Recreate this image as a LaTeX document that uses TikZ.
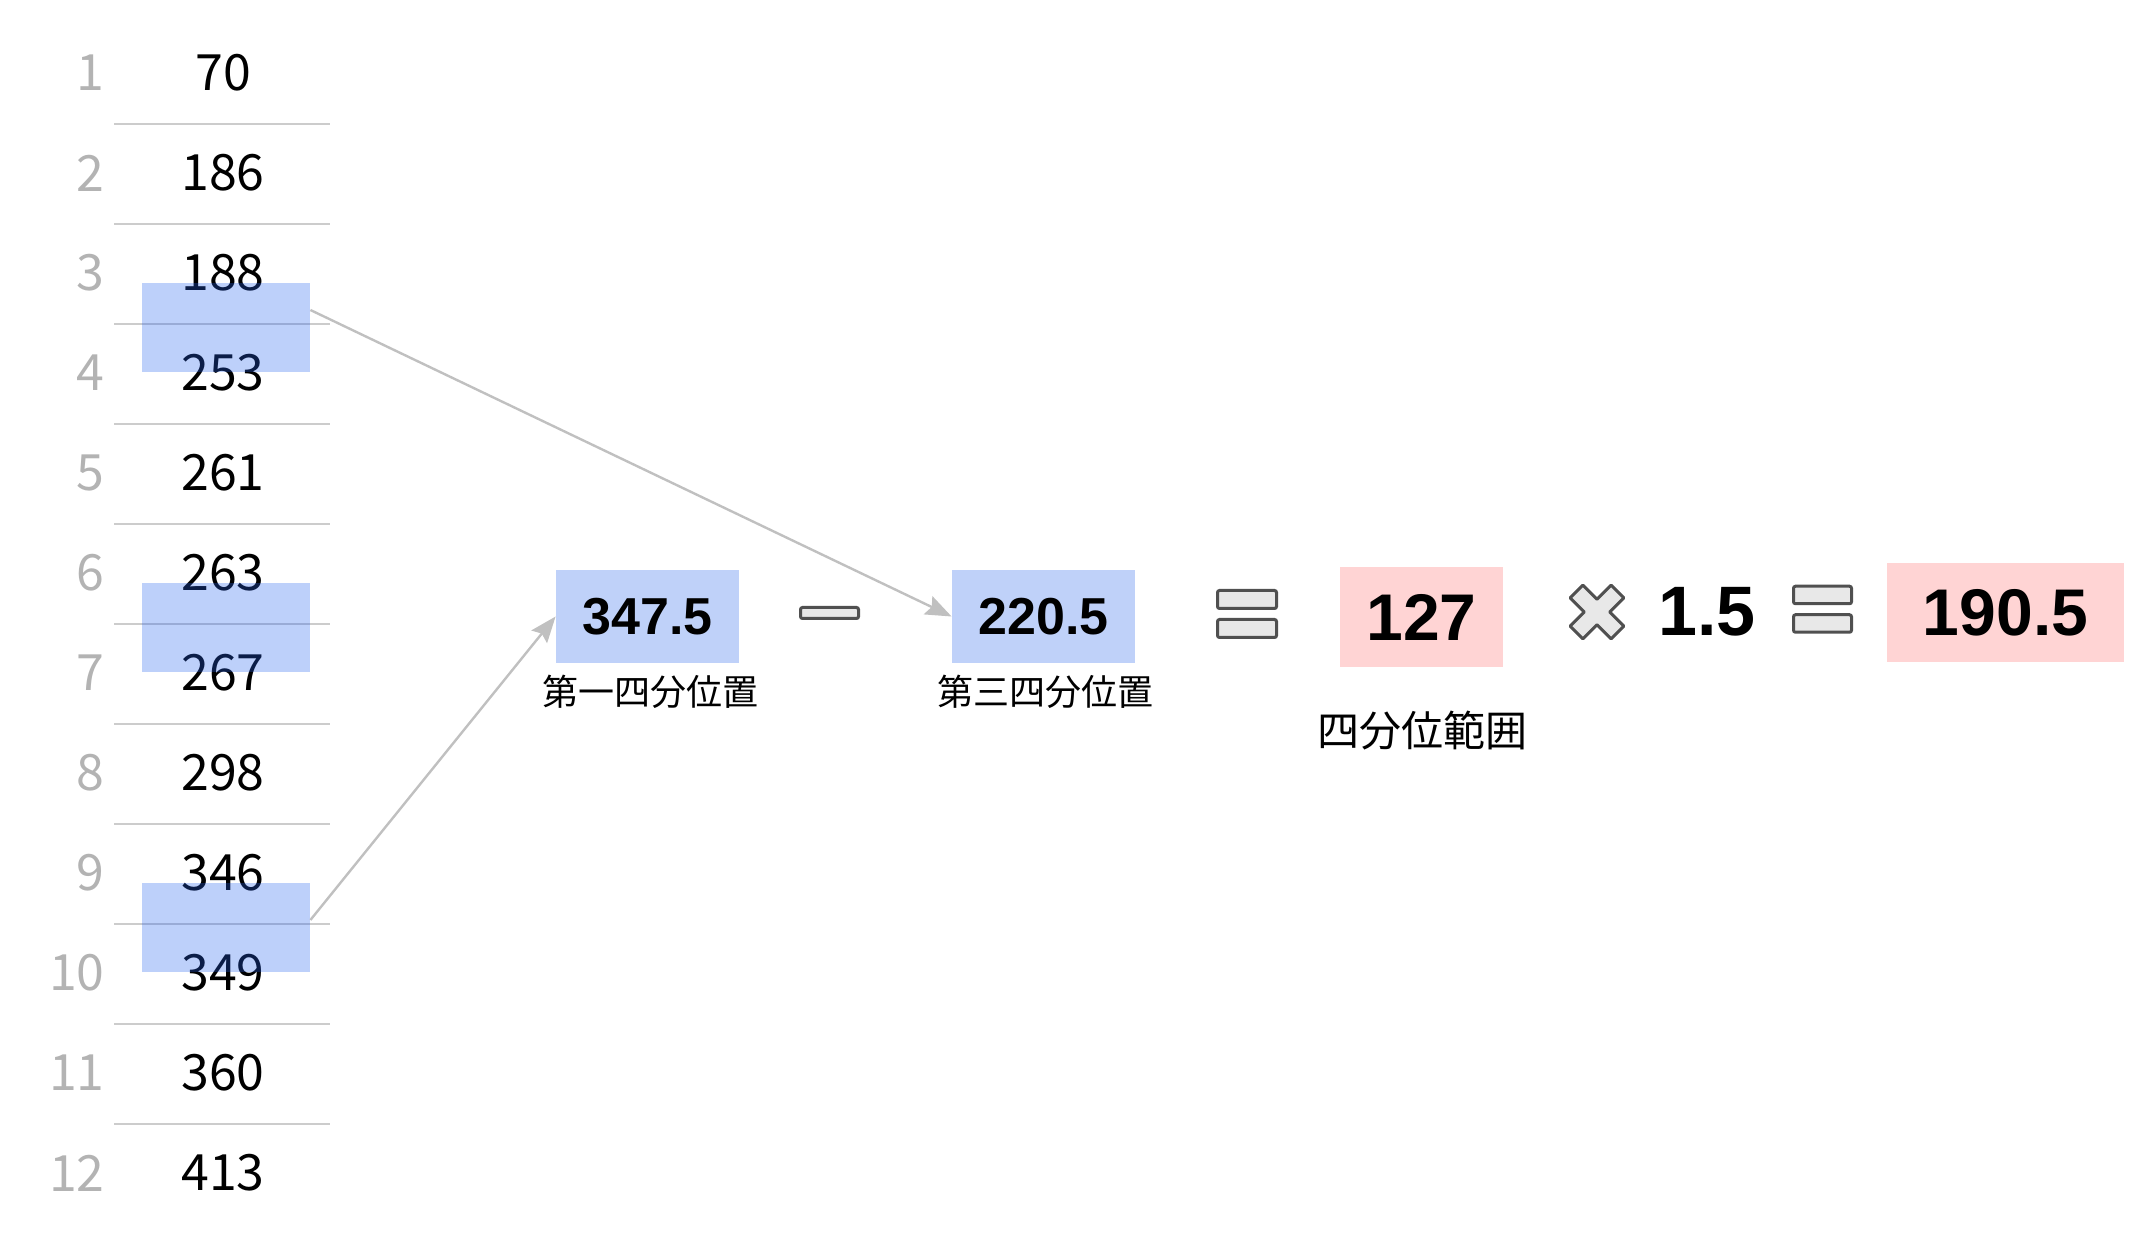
\documentclass[tikz,border=0pt]{standalone}
\usepackage{fontspec}
\newfontfamily\jp{Noto Sans CJK JP}
\newfontfamily\hv{Liberation Sans}
\usetikzlibrary{arrows.meta}
\definecolor{rownum}{HTML}{B3B3B3}
\definecolor{rulegray}{HTML}{CCCCCC}
\definecolor{hlblue}{RGB}{38,98,238}
\definecolor{qblue}{HTML}{BFD1F9}
\definecolor{qpink}{HTML}{FFD4D4}
\definecolor{opfill}{HTML}{E8E8E8}
\definecolor{opdraw}{HTML}{505050}
\definecolor{arrowgray}{HTML}{C0C0C0}
\tikzset{
  rowno/.style={anchor=east,inner sep=0pt,text=rownum,font=\jp\fontsize{25pt}{30pt}\selectfont},
  val/.style={inner sep=0pt,text=black,font=\jp\fontsize{25pt}{30pt}\selectfont},
  seprule/.style={draw=rulegray,line width=1pt},
  hlbox/.style={fill=hlblue,fill opacity=0.3,draw=none,minimum width=84pt,minimum height=44.5pt,inner sep=0pt},
  qbox/.style={fill=qblue,draw=none,minimum width=91.5pt,minimum height=46.5pt,inner sep=0pt,font=\hv\bfseries\fontsize{26pt}{30pt}\selectfont},
  rbox/.style={fill=qpink,draw=none,inner sep=0pt,font=\hv\bfseries\fontsize{33pt}{38pt}\selectfont},
  lab/.style={inner sep=0pt,font=\jp\fontsize{18pt}{22pt}\selectfont},
  opbar/.style={fill=opfill,draw=opdraw,line width=1.5pt,rounded corners=1pt,inner sep=0pt},
  conn/.style={draw=arrowgray,line width=1.2pt,-{Stealth[length=13pt,width=10pt,inset=2pt]}},
}
\begin{document}
\begin{tikzpicture}[x=0.5pt,y=-0.5pt]
\useasboundingbox (0,0) rectangle (2142,1256);
% separator rules
\foreach \k in {1,...,11} {
  \draw[seprule] (114,{124+100*(\k-1)}) -- (330,{124+100*(\k-1)});
}
% rows
\foreach \i/\v in {1/70,2/186,3/188,4/253,5/261,6/263,7/267,8/298,9/346,10/349,11/360,12/413} {
  \node[rowno] (n\i) at (105,{73+100*(\i-1)}) {\i};
  \node[val] (v\i) at (223,{73+100*(\i-1)}) {\v};
}
% highlight boxes
\node[hlbox] (b1) at (226,327.5) {};
\node[hlbox] (b2) at (226,627.5) {};
\node[hlbox] (b3) at (226,927.5) {};
% quartile boxes
\node[qbox] (q1) at (647.5,616.5) {347.5};
\node[qbox] (q3) at (1043.5,616.5) {220.5};
\node[lab] (l1) at (650,692) {第一四分位置};
\node[lab] (l3) at (1045,692) {第三四分位置};
% arrows
\draw[conn] ([yshift=8.75pt]b1.east) -- (q3.west);
\draw[conn] ([yshift=3.75pt]b3.east) -- (q1.west);
% minus
\node[opbar,minimum width=29pt,minimum height=5.5pt] (minus) at (829.5,613) {};
% equals 1
\node[opbar,minimum width=29.5pt,minimum height=9pt] (eqa1) at (1247,599.5) {};
\node[opbar,minimum width=29.5pt,minimum height=9pt] (eqa2) at (1247,628.5) {};
% IQR
\node[rbox,minimum width=81.5pt,minimum height=50pt] (iqr) at (1421.5,617) {127};
\node[lab,font=\jp\fontsize{21pt}{25pt}\selectfont] (liqr) at (1422,731) {四分位範囲};
% times
\begin{scope}[shift={(1597,612)},rotate=45]
  \draw[fill=opfill,draw=opdraw,line width=1.5pt,line join=round]
    (9,29) -- (-9,29) -- (-9,9) -- (-29,9) -- (-29,-9) -- (-9,-9) -- (-9,-29)
    -- (9,-29) -- (9,-9) -- (29,-9) -- (29,9) -- (9,9) -- cycle;
\end{scope}
\node[inner sep=0pt,font=\hv\bfseries\fontsize{35pt}{40pt}\selectfont] (k) at (1707,612) {1.5};
% equals 2
\node[opbar,minimum width=29pt,minimum height=8.75pt] (eqb1) at (1822.5,595) {};
\node[opbar,minimum width=29pt,minimum height=8.75pt] (eqb2) at (1822.5,623.5) {};
% result
\node[rbox,minimum width=118.5pt,minimum height=49.5pt] (res) at (2005.5,612.5) {190.5};
\end{tikzpicture}
\end{document}
